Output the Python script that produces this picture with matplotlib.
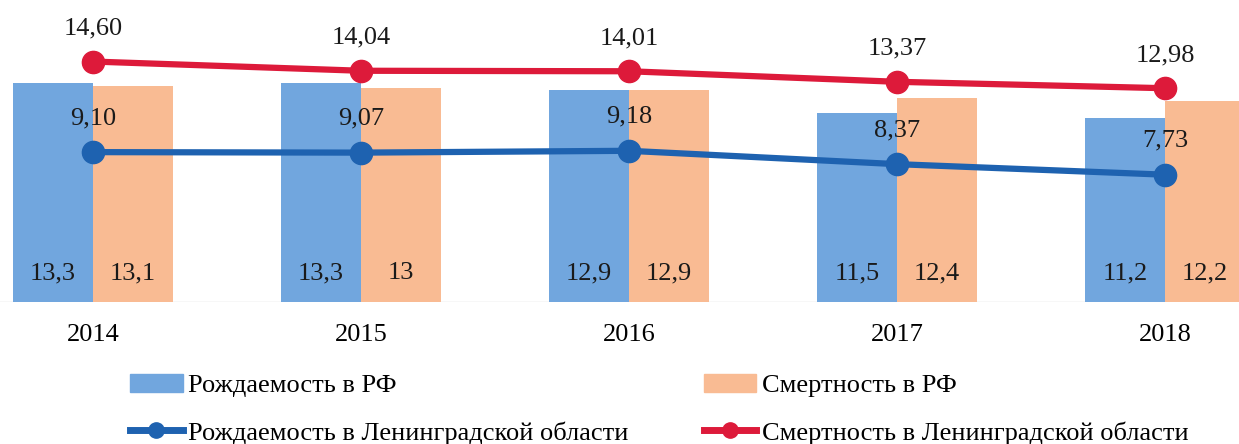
import numpy as np
import matplotlib.pyplot as plt
from matplotlib.patches import Patch
from matplotlib.lines import Line2D

plt.rcParams['font.family'] = ['Liberation Serif', 'DejaVu Serif']

years = ['2014', '2015', '2016', '2017', '2018']
birth_rf = [13.3, 13.3, 12.9, 11.5, 11.2]
death_rf = [13.1, 13.0, 12.9, 12.4, 12.2]
birth_lo = [9.10, 9.07, 9.18, 8.37, 7.73]
death_lo = [14.60, 14.04, 14.01, 13.37, 12.98]

c_birth_bar = '#71a6de'
c_death_bar = '#f9bb93'
c_birth_line = '#1e62b0'
c_death_line = '#dd1a3a'

fig = plt.figure(figsize=(12.39, 4.44), dpi=100)
ax = fig.add_axes([0, 142 / 444, 1, 302 / 444])

x = np.arange(len(years))
w = 0.3
ax.bar(x - w / 2, birth_rf, w, color=c_birth_bar, zorder=2)
ax.bar(x + w / 2, death_rf, w, color=c_death_bar, zorder=2)

ax.plot(x, death_lo, color=c_death_line, lw=4.5, marker='o', ms=16, zorder=3)
ax.plot(x, birth_lo, color=c_birth_line, lw=4.5, marker='o', ms=16, zorder=3)

fs = 19
for i in range(len(years)):
    ax.text(x[i] - w / 2, 1.75, f"{birth_rf[i]:g}".replace('.', ','), ha='center', va='center',
            fontsize=fs, color='#1a1a1a', zorder=4)
    ax.text(x[i] + w / 2, 1.75, f"{death_rf[i]:g}".replace('.', ','), ha='center', va='center',
            fontsize=fs, color='#1a1a1a', zorder=4)
    ax.text(x[i], death_lo[i] + 1.35, f"{death_lo[i]:.2f}".replace('.', ','), ha='center',
            va='bottom', fontsize=fs, color='#1a1a1a', zorder=4)
    ax.text(x[i], birth_lo[i] + 1.4, f"{birth_lo[i]:.2f}".replace('.', ','), ha='center',
            va='bottom', fontsize=fs, color='#1a1a1a', zorder=4)

ax.set_xlim(-93 / 268, (1239 - 93) / 268)
ax.set_ylim(0, 302 / 16.47)
ax.axhline(0, color='#d9d9d9', lw=1, zorder=1)
for s in ax.spines.values():
    s.set_visible(False)
ax.set_yticks([])
ax.set_xticks(x)
ax.set_xticklabels(years, fontsize=19)
ax.tick_params(axis='x', length=0, pad=16)

handles = [
    Patch(color=c_birth_bar),
    Line2D([], [], color=c_birth_line, lw=5, marker='o', ms=11),
    Patch(color=c_death_bar),
    Line2D([], [], color=c_death_line, lw=5, marker='o', ms=11),
]
labels = ['Рождаемость в РФ', 'Рождаемость в Ленинградской области',
          'Смертность в РФ', 'Смертность в Ленинградской области']
fig.legend(handles, labels, ncol=2, loc='upper left', bbox_to_anchor=(130 / 1239, 1 - 374 / 444),
           frameon=False, fontsize=19, handlelength=2.0, handletextpad=0.2,
           columnspacing=2.85, labelspacing=0.9, borderpad=0, borderaxespad=0)

fig.savefig('out.png', dpi=100)
